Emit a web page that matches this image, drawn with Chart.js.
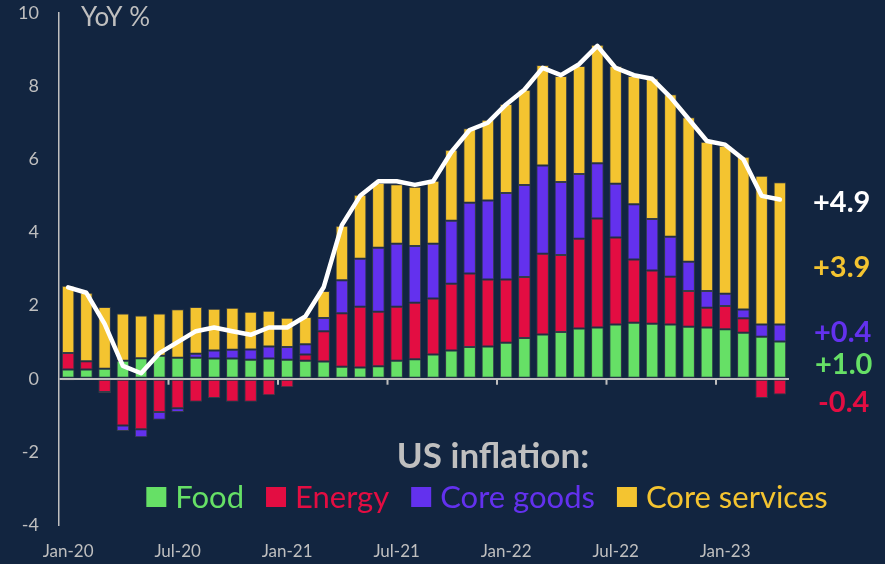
<!DOCTYPE html>
<html><head><meta charset="utf-8">
<script src="https://cdn.jsdelivr.net/npm/chart.js@4.4.0/dist/chart.umd.min.js"></script>
<style>html,body{margin:0;padding:0;background:#122540;}#wrap{width:885px;height:564px;}</style>
</head><body><div id="wrap"><canvas id="c" width="885" height="564"></canvas></div>
<script>
const months = ['Jan-20','Feb-20','Mar-20','Apr-20','May-20','Jun-20','Jul-20','Aug-20','Sep-20','Oct-20','Nov-20','Dec-20',
'Jan-21','Feb-21','Mar-21','Apr-21','May-21','Jun-21','Jul-21','Aug-21','Sep-21','Oct-21','Nov-21','Dec-21',
'Jan-22','Feb-22','Mar-22','Apr-22','May-22','Jun-22','Jul-22','Aug-22','Sep-22','Oct-22','Nov-22','Dec-22',
'Jan-23','Feb-23','Mar-23','Apr-23'];
const tickLabels = ['Jan-20','Jul-20','Jan-21','Jul-21','Jan-22','Jul-22','Jan-23'];
const yTicks = [-4,-2,0,2,4,6,8,10];

const food = [0.25,0.25,0.27,0.49,0.56,0.63,0.57,0.57,0.55,0.55,0.52,0.55,0.52,0.49,0.47,0.33,0.31,0.34,0.49,0.53,0.66,0.77,0.87,0.88,0.98,1.11,1.21,1.28,1.37,1.40,1.48,1.53,1.50,1.48,1.42,1.40,1.35,1.26,1.15,1.02];
const energy = [0.45,0.23,-0.36,-1.28,-1.38,-0.91,-0.81,-0.63,-0.53,-0.63,-0.63,-0.45,-0.23,0.17,0.83,1.46,1.66,1.49,1.48,1.55,1.53,1.83,2.01,1.83,1.73,1.67,2.21,2.10,2.46,2.98,2.38,1.73,1.46,1.31,0.98,0.54,0.64,0.39,-0.53,-0.43];
const coreGoods = [-0.05,0,-0.04,-0.15,-0.22,-0.21,-0.10,0.11,0.22,0.24,0.28,0.33,0.35,0.28,0.36,0.90,1.31,1.75,1.72,1.55,1.50,1.72,1.93,2.16,2.37,2.52,2.41,2.00,1.77,1.51,1.47,1.51,1.41,1.09,0.80,0.46,0.33,0.24,0.33,0.46];
const coreServices = [1.84,1.87,1.69,1.29,1.17,1.15,1.33,1.28,1.14,1.15,1.03,0.98,0.80,0.75,0.74,1.49,1.75,1.78,1.63,1.62,1.72,1.94,2.04,2.21,2.43,2.60,2.75,2.90,2.95,3.24,3.22,3.51,3.84,3.90,3.95,4.08,4.05,4.18,4.07,3.89];
const headline = [2.5,2.35,1.5,0.35,0.15,0.7,1.0,1.3,1.4,1.3,1.2,1.4,1.4,1.7,2.5,4.2,5.0,5.4,5.4,5.3,5.4,6.2,6.8,7.0,7.5,7.9,8.5,8.3,8.6,9.1,8.5,8.3,8.2,7.7,7.1,6.5,6.4,6.0,5.0,4.9];

const seriesNames = ['Food','Energy','Core goods','Core services'];
const endLabels = ['+4.9','+3.9','+0.4','+1.0','-0.4'];

const BG = '#122540';
const GREY = '#BFBFBF';
const COLORS = {food:'#66E066', energy:'#E30D42', goods:'#6331EE', services:'#F4C430', line:'#FFFFFF'};
const FONT = 'Lato';

const endLabelStyle = [
  {color:'#FFFFFF', y:203, x:813},
  {color:COLORS.services, y:268, x:813},
  {color:COLORS.goods, y:333, x:814},
  {color:COLORS.food, y:365, x:815},
  {color:COLORS.energy, y:403, x:818}
];

const bgPlugin = {
  id:'bg',
  beforeDraw(chart){
    const c = chart.ctx; c.save(); c.fillStyle = BG; c.fillRect(0,0,chart.width,chart.height); c.restore();
  }
};

const decoPlugin = {
  id:'deco',
  afterDatasetsDraw(chart){
    const c = chart.ctx, xs = chart.scales.x, ys = chart.scales.y;
    const y0 = ys.getPixelForValue(0);
    c.save();
    c.strokeStyle = GREY; c.lineWidth = 2;
    for (let i = 6; i < months.length; i += 6) {
      const x = (xs.getPixelForValue(i-1) + xs.getPixelForValue(i)) / 2;
      c.beginPath(); c.moveTo(x, y0); c.lineTo(x, y0 + 6); c.stroke();
    }
    c.restore();
  },
  afterDraw(chart){
    const c = chart.ctx;
    c.save();
    c.fillStyle = GREY; c.font = '26px ' + FONT; c.textBaseline = 'middle'; c.textAlign = 'left';
    c.fillText('YoY %', 81, 18);
    c.font = 'bold 35px ' + FONT; c.textAlign = 'center';
    c.fillText('US inflation:', 493, 457);
    const cols = [COLORS.food, COLORS.energy, COLORS.goods, COLORS.services];
    c.font = '31px ' + FONT; c.textAlign = 'left';
    const box = 20, gap = 9, sep = 22;
    let total = 0;
    const widths = seriesNames.map(n => c.measureText(n).width);
    widths.forEach(w => total += box + gap + w);
    total += sep * (seriesNames.length - 1);
    let x = 487 - total / 2;
    const ly = 497;
    seriesNames.forEach((n, i) => {
      c.fillStyle = cols[i];
      c.fillRect(x, ly - box/2, box, box);
      c.fillText(n, x + box + gap, ly + 1);
      x += box + gap + widths[i] + sep;
    });
    c.font = 'bold 29px ' + FONT;
    endLabels.forEach((t, i) => {
      c.fillStyle = endLabelStyle[i].color;
      c.fillText(t, endLabelStyle[i].x, endLabelStyle[i].y);
    });
    c.restore();
  }
};

const barCommon = {type:'bar', stack:'bars', order:1, barPercentage:0.69, categoryPercentage:1.0,
  borderWidth:1, borderColor:'rgba(80,80,80,0.55)', borderSkipped:false};

new Chart(document.getElementById('c'), {
  data: {
    labels: months,
    datasets: [
      {type:'line', label:'Headline', data: headline, stack:'line', order:0, borderColor: COLORS.line, borderWidth:4.5,
       pointRadius:0, tension:0, borderCapStyle:'round', borderJoinStyle:'round', fill:false},
      Object.assign({label: seriesNames[0], data: food, backgroundColor: COLORS.food}, barCommon),
      Object.assign({label: seriesNames[1], data: energy, backgroundColor: COLORS.energy}, barCommon),
      Object.assign({label: seriesNames[2], data: coreGoods, backgroundColor: COLORS.goods}, barCommon),
      Object.assign({label: seriesNames[3], data: coreServices, backgroundColor: COLORS.services}, barCommon)
    ]
  },
  options: {
    responsive:false, animation:false, devicePixelRatio:1,
    layout:{padding:{top:13, right:96, left:0, bottom:0}},
    plugins:{legend:{display:false}, tooltip:{enabled:false}, title:{display:false}},
    scales:{
      x:{stacked:true, offset:true,
         grid:{display:false, drawTicks:false}, border:{display:false},
         ticks:{autoSkip:false, maxRotation:0, padding:16, color:GREY, font:{family:FONT, size:17},
           callback:(v,i)=> tickLabels.includes(months[i]) ? months[i] : ''},
         afterFit:(s)=>{ s.height = 39; }
      },
      y:{stacked:true, min:-4, max:10,
         afterBuildTicks:(s)=>{ s.ticks = yTicks.map(v=>({value:v})); },
         grid:{drawTicks:false, color:(ctx)=> ctx.tick && ctx.tick.value === 0 ? GREY : 'rgba(0,0,0,0)', lineWidth:2},
         border:{display:true, color:GREY, width:1.5},
         ticks:{padding:20, color:GREY, font:{family:FONT, size:18}},
         afterFit:(s)=>{ s.width = 59; s.paddingTop = 0; s.paddingBottom = 0; }
      }
    }
  },
  plugins:[bgPlugin, decoPlugin]
});
</script></body></html>
